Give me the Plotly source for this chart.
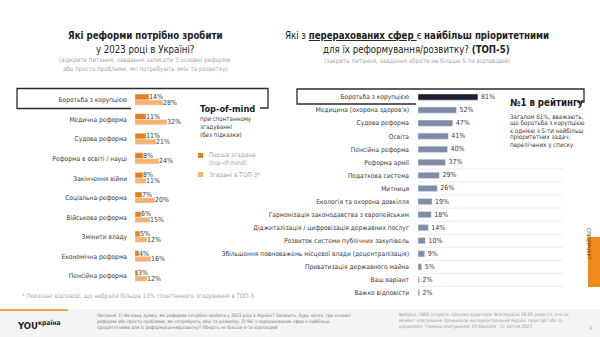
import plotly.graph_objects as go

W, H = 600, 337
FONT = "DejaVu Sans Condensed, Noto Sans, sans-serif"

# Left block: open question, spontaneous mentions
reforms = ["Боротьба з корупцією", "Медична реформа", "Судова реформа",
           "Реформа в освіті / науці", "Закінчення війни", "Соціальна реформа",
           "Військова реформа", "Змінити владу", "Економічна реформа",
           "Пенсійна реформа"]
first_mention = [14, 11, 11, 8, 8, 7, 6, 5, 4, 3]
top3_mention = [28, 32, 21, 24, 11, 20, 15, 12, 16, 12]

# Right block: closed question, top-5 priority areas
spheres = ["Боротьба з корупцією", "Медицина (охорона здоров'я)", "Судова реформа",
           "Освіта", "Пенсійна реформа", "Реформа армії", "Податкова система",
           "Митниця", "Екологія та охорона довкілля",
           "Гармонізація законодавства з європейським",
           "Діджиталізація / цифровізація державних послуг",
           "Розвиток системи публічних закупівель",
           "Збільшення повноважень місцевої влади (децентралізація)",
           "Приватизація державного майна", "Ваш варіант", "Важко відповісти"]
priority = [81, 52, 47, 41, 40, 37, 29, 26, 19, 18, 14, 10, 9, 5, 2, 2]

DARK_OR = "#e8801a"
LIGHT_OR = "#f6b26e"
SLATE = "#7e8ca8"
NAVY = "#1d2131"
TXT = "#3a3a3a"
GREY = "#a8a8a8"


def px(x):
    return x / W


def py(y):
    return 1 - y / H


fig = go.Figure()

idx_l = list(range(len(reforms)))
fig.add_trace(go.Bar(
    y=idx_l, x=first_mention, orientation="h", xaxis="x", yaxis="y",
    marker_color=DARK_OR, width=0.3, offset=-0.3,
    text=[f"{v}%" for v in first_mention], textposition="outside",
    constraintext="none", cliponaxis=False,
    textfont=dict(size=7, color=TXT, family=FONT), showlegend=False))
fig.add_trace(go.Bar(
    y=idx_l, x=top3_mention, orientation="h", xaxis="x", yaxis="y",
    marker_color=LIGHT_OR, width=0.27, offset=0.0,
    text=[f"{v}%" for v in top3_mention], textposition="outside",
    constraintext="none", cliponaxis=False,
    textfont=dict(size=7, color=TXT, family=FONT), showlegend=False))

idx_r = list(range(len(spheres)))
fig.add_trace(go.Bar(
    y=idx_r, x=priority, orientation="h", xaxis="x2", yaxis="y2",
    marker_color=[NAVY] + [SLATE] * (len(priority) - 1), width=0.48,
    text=[f"{v}%" for v in priority], textposition="outside",
    constraintext="none", cliponaxis=False,
    textfont=dict(size=7, color=TXT, family=FONT), showlegend=False))

nl = len(reforms)
nr = len(spheres)
fig.update_layout(
    width=W, height=H, margin=dict(l=0, r=0, t=0, b=0),
    paper_bgcolor="white", plot_bgcolor="rgba(0,0,0,0)",
    barmode="overlay", font=dict(family=FONT, color=TXT),
    xaxis=dict(domain=[px(135), px(235)], range=[0, 100], visible=False, fixedrange=True),
    yaxis=dict(domain=[py(285.8), py(90.2)], range=[nl - 0.5, -0.5],
               tickvals=idx_l, ticktext=reforms, showgrid=False, zeroline=False,
               showline=False, ticks="", ticklabelstandoff=7,
               tickfont=dict(size=6.6, color=TXT, family=FONT)),
    xaxis2=dict(domain=[px(418), px(492)], range=[0, 100], visible=False, fixedrange=True),
    yaxis2=dict(domain=[py(299.5), py(90.5)], range=[nr - 0.5, -0.5], anchor="x2",
                tickvals=idx_r, ticktext=spheres, showgrid=False, zeroline=False,
                showline=False, ticks="", ticklabelstandoff=8,
                tickfont=dict(size=6.6, color=TXT, family=FONT)),
)

shapes = []
ann = []


def text(x, y, s, size, color=TXT, anchor="left", **kw):
    ann.append(dict(x=px(x), y=py(y), xref="paper", yref="paper", text=s,
                    showarrow=False, xanchor=anchor, yanchor="middle",
                    font=dict(size=size, color=color, family=FONT), **kw))


# Footer band
shapes.append(dict(type="rect", xref="paper", yref="paper", x0=0, x1=1,
                   y0=0, y1=py(309), fillcolor="#f4f4f4", line_width=0, layer="below"))
shapes.append(dict(type="line", xref="paper", yref="paper", x0=0, x1=px(68),
                   y0=py(310), y1=py(310), line=dict(color="#f2a546", width=2)))

# Faint row separators on the right block
for k in range(6, nr):
    yb = 90.5 + k * (299.5 - 90.5) / nr
    shapes.append(dict(type="line", xref="paper", yref="paper", x0=px(418), x1=px(563),
                       y0=py(yb), y1=py(yb), line=dict(color="#ededed", width=1),
                       layer="below"))

# Highlight brackets
shapes.append(dict(type="path", xref="paper", yref="paper",
                   path=f"M {px(131)} {py(108.5)} L {px(17)} {py(108.5)} L {px(17)} {py(88.5)} "
                        f"L {px(268)} {py(88.5)} L {px(268)} {py(108)} L {px(260)} {py(108)}",
                   line=dict(color="#2b2b2b", width=1.3)))
shapes.append(dict(type="path", xref="paper", yref="paper",
                   path=f"M {px(416)} {py(104)} L {px(297)} {py(104)} L {px(297)} {py(89)} "
                        f"L {px(584)} {py(89)} L {px(584)} {py(102)} L {px(577)} {py(102)}",
                   line=dict(color="#2b2b2b", width=1.3)))

# Legend squares
shapes.append(dict(type="rect", xref="paper", yref="paper", x0=px(198), x1=px(203),
                   y0=py(158), y1=py(153), fillcolor=DARK_OR, line_width=0))
shapes.append(dict(type="rect", xref="paper", yref="paper", x0=px(198), x1=px(203),
                   y0=py(177), y1=py(172), fillcolor=LIGHT_OR, line_width=0))

# Orange side tab
shapes.append(dict(type="rect", xref="paper", yref="paper", x0=px(588), x1=1,
                   y0=py(287), y1=py(237), fillcolor="#f08a1c", line_width=0))

# Left titles
text(145, 35, "<b>Які реформи потрібно зробити</b>", 9.6, "#222", "center")
text(145, 49, "у 2023 році в Україні?", 9.6, "#222", "center")
text(145, 60, "(відкрите питання, завдання записати 3 основні реформи", 6.2, GREY, "center")
text(145, 69, "або просто проблеми, які потребують змін та розвитку)", 6.2, GREY, "center")

# Right titles
text(417, 35, "Які з <b><u>перерахованих сфер </u></b>є <b>найбільш пріоритетними</b>", 9.6, "#222", "center")
text(417, 49, "для їх реформування/розвитку? <b>(ТОП-5)</b>", 9.6, "#222", "center")
text(417, 61, "(закрите питання, завдання обрати не більше 5-ти відповідей)", 6.2, GREY, "center")

# Left side notes
text(198, 109, "<b>Top-of-mind</b>", 9.2, "#222")
text(198, 119, "при спонтанному", 6.2, TXT)
text(198, 127, "згадуванні", 6.2, TXT)
text(198, 135, "(без підказки)", 6.2, TXT)
text(207, 155, "Перша згадана", 6.4, GREY)
text(207, 163, "(top-of-mind)", 6.4, GREY)
text(207, 175, "Згадані в ТОП-3*", 6.4, GREY)
text(20, 296, "* Показані відповіді, що набрали більше 10% спонтанного згадування в ТОП-3", 6.2, GREY)

# Right side notes
text(508, 102, "<b>№1 в рейтингу</b>", 9.6, "#222")
text(508, 116, "Загалом 81%, вважають,", 6.2, TXT)
text(508, 123, "що боротьба з корупцією", 6.2, TXT)
text(508, 130, "є однією з 5-ти найбільш", 6.2, TXT)
text(508, 137, "пріоритетних задач,", 6.2, TXT)
text(508, 145, "перелічених у списку", 6.2, TXT)

# Footer
text(15, 325, "<b>YOU</b><b><sup>країна</sup></b>", 9.5, "#222")
text(95, 315, "Питання: 1) На вашу думку, які реформи потрібно зробити у 2023 році в Україні? Запишіть, будь ласка, три основні", 4.6, "#777")
text(95, 321, "реформи або просто проблеми, які потребують змін та розвитку. 2) Які з перерахованих сфер є найбільш", 4.6, "#777")
text(95, 327, "пріоритетними для їх реформування/розвитку? Оберіть не більше 5-ти відповідей", 4.6, "#777")
text(397, 314, "Вибірка: 1000 інтерв'ю. Цільова аудиторія: Вся Україна 18-65 років (ті, хто на", 4.6, "#999")
text(397, 320, "момент опитування проживали на підконтрольній Україні території або за", 4.6, "#999")
text(397, 326, "кордоном). Терміни опитування: 29 березня - 11 квітня 2023", 4.6, "#999")
text(587, 328, "4", 5.5, "#bbb")
ann.append(dict(x=px(594), y=py(262), xref="paper", yref="paper", text="СПЕЦПРОЄКТ",
                showarrow=False, textangle=90, font=dict(size=5, color="#5a3000", family=FONT)))

fig.update_layout(shapes=shapes, annotations=ann)
fig.write_html("out.html")
